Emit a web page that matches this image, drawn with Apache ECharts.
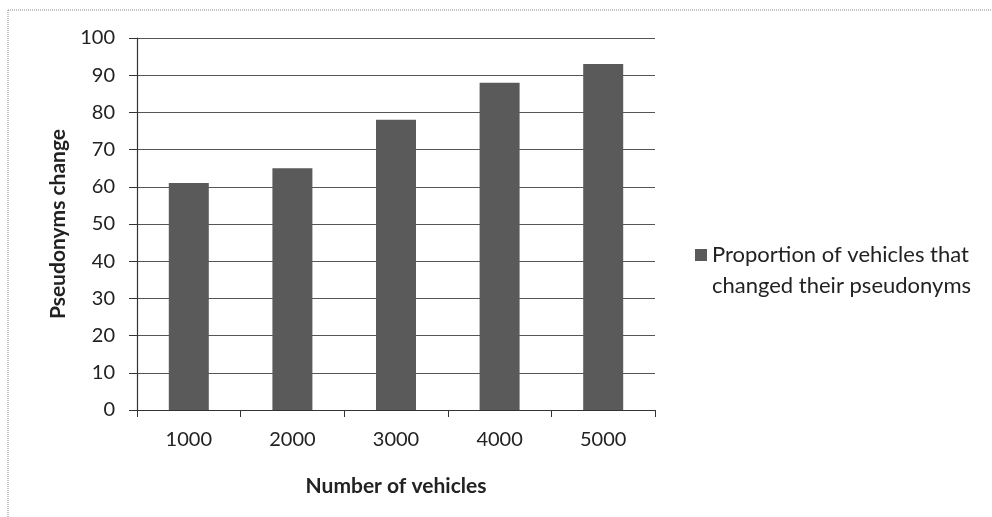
<!DOCTYPE html>
<html><head><meta charset="utf-8">
<script src="https://cdn.jsdelivr.net/npm/echarts@6/dist/echarts.min.js"></script>
<style>html,body{margin:0;padding:0;background:#fff}#c{width:992px;height:517px}</style>
</head><body><div id="c"></div>
<script>
const categories = ['1000','2000','3000','4000','5000'];
const seriesName = 'Proportion of vehicles that\nchanged their pseudonyms';
const values = [61, 65, 78, 88, 93];
const xTitle = 'Number of vehicles';
const yTitle = 'Pseudonyms change';

const chart = echarts.init(document.getElementById('c'));
const font = 'Lato, "Open Sans", sans-serif';
chart.setOption({
  animation: false,
  backgroundColor: '#fff',
  grid: {left: 137, right: 337, top: 38, bottom: 107},
  legend: {
    left: 690, top: 234, orient: 'vertical',
    itemWidth: 12, itemHeight: 62, itemGap: 6,
    icon: 'path://M0,0L0.1,0M0,10L12,10L12,22L0,22ZM0,62L0.1,62',
    textStyle: {fontFamily: font, fontSize: 22, color: '#222', lineHeight: 31}
  },
  xAxis: {
    type: 'category', data: categories,
    name: xTitle, nameLocation: 'middle', nameGap: 66,
    nameTextStyle: {fontFamily: font, fontSize: 21, fontWeight: 'bold', color: '#222'},
    axisLine: {lineStyle: {color: '#333', width: 1.2}},
    axisTick: {show: true, length: 7, lineStyle: {color: '#333'}},
    axisLabel: {fontFamily: font, fontSize: 20, color: '#222', margin: 20}
  },
  yAxis: {
    type: 'value', min: 0, max: 100, interval: 10,
    name: yTitle, nameLocation: 'middle', nameGap: 68,
    nameTextStyle: {fontFamily: font, fontSize: 21, fontWeight: 'bold', color: '#222'},
    axisLine: {show: true, lineStyle: {color: '#333', width: 1.2}},
    axisTick: {show: true, length: 8, lineStyle: {color: '#333'}},
    axisLabel: {fontFamily: font, fontSize: 20, color: '#222', margin: 22},
    splitLine: {lineStyle: {color: '#555', width: 1.2}}
  },
  series: [{
    name: seriesName, type: 'bar', data: values,
    barWidth: 40,
    itemStyle: {color: '#5a5a5a'}
  }],
  graphic: [
    {type: 'line', shape: {x1: 8, y1: 10, x2: 992, y2: 10}, style: {stroke: '#888', lineWidth: 1, lineDash: [1, 1]}},
    {type: 'line', shape: {x1: 8, y1: 10, x2: 8, y2: 517}, style: {stroke: '#888', lineWidth: 1, lineDash: [1, 1]}}
  ]
});
</script></body></html>
